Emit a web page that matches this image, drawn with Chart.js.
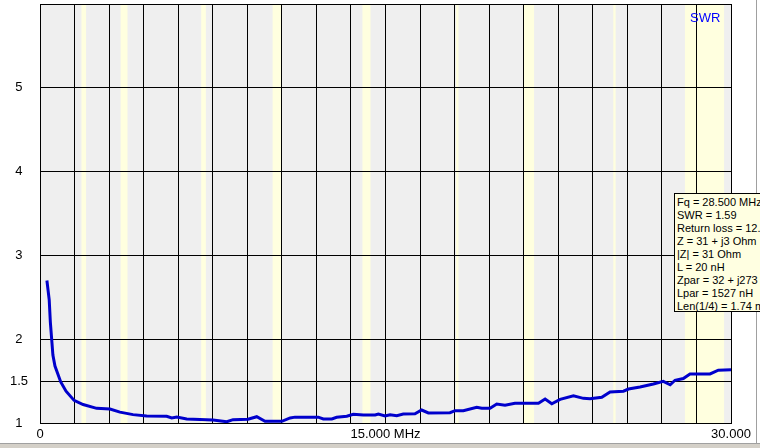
<!DOCTYPE html>
<html lang="en">
<head>
<meta charset="UTF-8">
<title>SWR</title>
<script src="https://cdn.jsdelivr.net/npm/chart.js"></script>
<style>
  body { margin: 0; background: #fff; overflow: hidden; }
  #wrap { position: relative; width: 760px; height: 448px; overflow: hidden; }
  #swrLabel { position: absolute; left: 690px; top: 11px; font: 13px "Liberation Sans", Arial, sans-serif; line-height: 13px; color: #0000ff; }
  #info { position: absolute; left: 674px; top: 193px; width: 110px; height: 119px; box-sizing: border-box;
          border: 1px solid #000; background: #ffffe1; padding: 2px 0 0 2px;
          font: 11px "Liberation Sans", Arial, sans-serif; line-height: 13px; color: #000; white-space: nowrap; overflow: hidden; }
  #frameR { position: absolute; left: 756px; top: 0; width: 1px; height: 443px; background: #a0a0a0; }
  #frameB { position: absolute; left: 0; top: 443px; width: 760px; height: 5px; background: #d4d0c8; border-top: 1px solid #a0a0a0; box-sizing: border-box; }
</style>
</head>
<body>
<div id="wrap">
  <canvas id="swr-chart" width="760" height="448"></canvas>
  <div id="swrLabel">SWR</div>
  <div id="frameR"></div>
  <div id="frameB"></div>
  <div id="info">
    Fq = 28.500 MHz<br>SWR = 1.59<br>Return loss = 12.7 dB<br>Z = 31 + j3 Ohm<br>|Z| = 31 Ohm<br>L = 20 nH<br>Zpar = 32 + j273 Ohm<br>Lpar = 1527 nH<br>Len(1/4) = 1.74 m
  </div>
</div>
<script>
// measured sweep, MHz / SWR
const freqMHz = [0.30,0.40,0.45,0.51,0.56,0.65,0.90,1.13,1.48,1.87,
  2.46,3.04,3.47,4.04,4.63,5.50,5.72,5.94,6.37,7.51,
  8.11,8.38,9.03,9.41,9.77,10.50,10.86,11.07,12.08,12.30,
  12.67,12.88,13.32,13.60,14.04,14.55,14.69,14.98,15.20,15.49,
  15.77,16.28,16.57,16.86,17.80,18.02,18.38,18.96,19.18,19.54,
  19.83,20.19,20.62,21.64,21.93,22.22,22.58,23.16,23.59,23.88,
  24.39,24.75,25.33,25.55,26.05,26.63,27.06,27.36,27.57,27.93,
  28.22,29.09,29.45,30.00];
const swr = [2.70,2.47,2.20,1.99,1.81,1.68,1.49,1.38,1.27,1.22,
  1.175,1.167,1.13,1.10,1.083,1.08,1.06,1.07,1.048,1.036,
  1.015,1.04,1.044,1.075,1.02,1.02,1.06,1.07,1.07,1.048,
  1.048,1.068,1.08,1.104,1.095,1.095,1.107,1.083,1.099,1.087,
  1.107,1.11,1.155,1.12,1.123,1.147,1.147,1.187,1.175,1.175,
  1.226,1.211,1.235,1.235,1.286,1.23,1.282,1.325,1.294,1.29,
  1.306,1.37,1.38,1.405,1.43,1.465,1.497,1.456,1.51,1.53,
  1.585,1.585,1.63,1.635];

// ham bands (highlighted)
const bandLo = [1.8, 3.5, 7.0, 10.1, 14.0, 18.068, 21.0, 24.89, 28.0];
const bandHi = [2.0, 3.8, 7.2, 10.5, 14.35, 18.168, 21.45, 24.99, 29.7];

const yTicks = [1, 1.5, 2, 3, 4, 5, 6];
const xLabels = { 0: '0', 15: '15.000 MHz', 30: '30.000' };

const bgPlugin = {
  id: 'bg',
  beforeDraw(chart) {
    const { ctx, chartArea: a, scales } = chart;
    ctx.save();
    ctx.fillStyle = '#efefef';
    ctx.fillRect(a.left, a.top, a.right - a.left, a.bottom - a.top);
    ctx.fillStyle = '#ffffdf';
    for (let i = 0; i < bandLo.length; i++) {
      const x1 = scales.x.getPixelForValue(bandLo[i]);
      const x2 = scales.x.getPixelForValue(bandHi[i]);
      ctx.fillRect(x1, a.top, x2 - x1, a.bottom - a.top);
    }
    ctx.restore();
  }
};

function noPad(s) {
  s.paddingTop = 0; s.paddingBottom = 0; s.paddingLeft = 0; s.paddingRight = 0;
}

const font = { family: '"Liberation Sans", Arial, sans-serif', size: 13 };

new Chart(document.getElementById('swr-chart'), {
  type: 'line',
  data: {
    datasets: [{
      data: freqMHz.map((f, i) => ({ x: f, y: swr[i] })),
      borderColor: '#0000cc',
      borderWidth: 3,
      pointRadius: 0,
      tension: 0,
      fill: false
    }]
  },
  options: {
    responsive: false,
    animation: false,
    events: [],
    layout: { padding: { top: 4, right: 29, left: 0, bottom: 0 } },
    plugins: { legend: { display: false }, tooltip: { enabled: false } },
    scales: {
      x: {
        type: 'linear',
        min: 0,
        max: 30,
        afterFit(s) { s.height = 25; noPad(s); },
        grid: { color: '#000', lineWidth: 1, drawTicks: false },
        border: { color: '#000' },
        ticks: {
          stepSize: 1.5,
          autoSkip: false,
          maxRotation: 0,
          padding: 4,
          color: '#000',
          font,
          callback(v) {
            for (const k in xLabels) if (Math.abs(v - k) < 1e-6) return xLabels[k];
            return '';
          }
        }
      },
      y: {
        type: 'linear',
        min: 1,
        max: 6,
        afterFit(s) { s.width = 40; noPad(s); },
        afterBuildTicks(s) { s.ticks = yTicks.map(v => ({ value: v })); },
        grid: { color: '#000', lineWidth: 1, drawTicks: false },
        border: { color: '#000' },
        ticks: {
          padding: 12,
          crossAlign: 'center',
          color: '#000',
          font,
          callback(v) { return v === 6 ? '' : String(v); }
        }
      }
    }
  },
  plugins: [bgPlugin]
});
</script>
</body>
</html>
